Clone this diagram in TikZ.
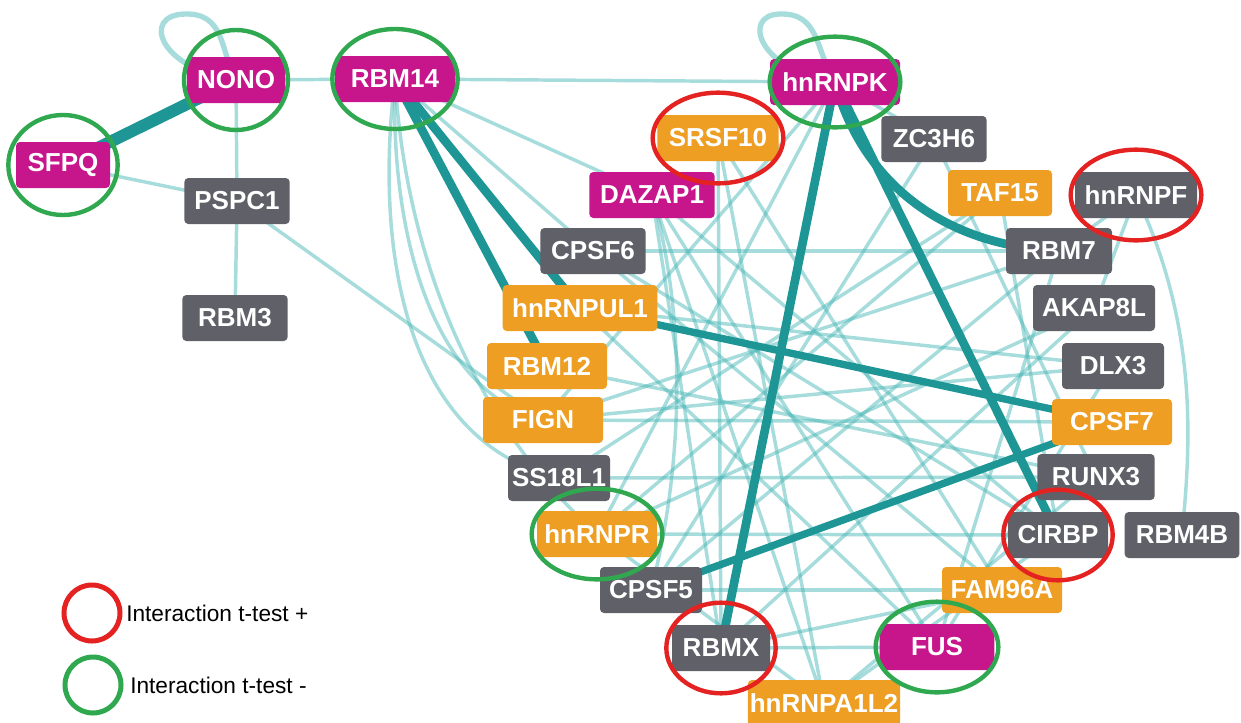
\documentclass[tikz,border=0pt]{standalone}
\usepackage{fontspec}
\setmainfont{Liberation Sans}
\usetikzlibrary{backgrounds}

\definecolor{pmag}{RGB}{199,21,140}
\definecolor{pgray}{RGB}{96,96,104}
\definecolor{porange}{RGB}{238,158,34}
\definecolor{tealdark}{RGB}{30,150,150}
\definecolor{teallight}{RGB}{80,185,185}
\definecolor{ringred}{RGB}{229,34,34}
\definecolor{ringgreen}{RGB}{47,168,79}

\tikzset{
  prot/.style={rounded corners=3pt, text=white, font=\bfseries\fontsize{19.5}{19.5}\selectfont,
    minimum height=34.5pt, inner xsep=1.5pt, inner ysep=0pt},
  magp/.style={prot, fill=pmag},
  grayp/.style={prot, fill=pgray},
  orgp/.style={prot, fill=porange},
  strong/.style={draw=tealdark, line width=6.5pt},
  weak/.style={draw=teallight, line width=2.6pt, opacity=0.5},
  posring/.style={draw=ringred, line width=3.3pt},
  negring/.style={draw=ringgreen, line width=3.3pt},
}

\begin{document}
\begin{tikzpicture}[x=0.75pt, y=-0.75pt]
\useasboundingbox (0,0) rectangle (1241,722);

\node[magp, minimum width=73.5pt] (nono) at (236,80) {NONO};
\node[magp, minimum width=70.5pt] (sfpq) at (63,165) {SFPQ};
\node[magp, minimum width=90pt] (rbm14) at (395,79) {RBM14};
\node[grayp, minimum width=79pt] (pspc1) at (237,201) {PSPC1};
\node[grayp, minimum width=79pt] (rbm3) at (235,318) {RBM3};
\node[magp, minimum width=97.5pt] (hnrnpk) at (835,82) {hnRNPK};
\node[orgp, minimum width=91pt] (srsf10) at (718,138) {SRSF10};
\node[magp, minimum width=94pt] (dazap1) at (652,195) {DAZAP1};
\node[grayp, minimum width=79pt] (zc3h6) at (934,139) {ZC3H6};
\node[orgp, minimum width=78pt] (taf15) at (1000,193) {TAF15};
\node[grayp, minimum width=91.5pt] (hnrnpf) at (1136,195) {hnRNPF};
\node[grayp, minimum width=79pt] (cpsf6) at (593,251) {CPSF6};
\node[grayp, minimum width=79.5pt] (rbm7) at (1059,251) {RBM7};
\node[orgp, minimum width=116pt] (hnrnpul1) at (580,308) {hnRNPUL1};
\node[grayp, minimum width=91.5pt] (akap8l) at (1094,308) {AKAP8L};
\node[orgp, minimum width=90pt] (rbm12) at (547,366) {RBM12};
\node[grayp, minimum width=76.5pt] (dlx3) at (1113,366) {DLX3};
\node[orgp, minimum width=90pt] (fign) at (543,420) {FIGN};
\node[orgp, minimum width=90pt] (cpsf7) at (1112,422) {CPSF7};
\node[grayp, minimum width=76.5pt] (ss18l1) at (559,478) {SS18L1};
\node[grayp, minimum width=88pt] (runx3) at (1096,477) {RUNX3};
\node[orgp, minimum width=90pt] (hnrnpr) at (597,534) {hnRNPR};
\node[grayp, minimum width=75pt] (cirbp) at (1058,535) {CIRBP};
\node[grayp, minimum width=86pt] (rbm4b) at (1182,535) {RBM4B};
\node[grayp, minimum width=76.5pt] (cpsf5) at (651,590) {CPSF5};
\node[orgp, minimum width=90pt] (fam96a) at (1002,590) {FAM96A};
\node[grayp, minimum width=73.5pt] (rbmx) at (721,648) {RBMX};
\node[magp, minimum width=86pt] (fus) at (937,647) {FUS};
\node[orgp, minimum width=114pt] (hnrnpa1l2) at (824,703) {hnRNPA1L2};

\begin{scope}[on background layer]
\foreach \a/\b in {nono/rbm14, rbm14/hnrnpk, nono/pspc1, pspc1/rbm3, sfpq/pspc1, pspc1/fign,
    rbm14/dazap1, rbm14/cpsf6, cpsf6/rbm7, dazap1/rbmx, dazap1/fus, dazap1/cirbp,
    srsf10/hnrnpa1l2, srsf10/fam96a, srsf10/rbmx, hnrnpk/hnrnpr, hnrnpk/fign, hnrnpk/zc3h6,
    zc3h6/cpsf5, taf15/hnrnpr, taf15/ss18l1, hnrnpf/akap8l, hnrnpf/rbm7, rbm7/fign, rbm7/cpsf5,
    akap8l/hnrnpr, akap8l/rbmx, dlx3/fign, dlx3/hnrnpul1, fign/cpsf7, ss18l1/runx3, hnrnpr/cirbp,
    rbm12/runx3, hnrnpul1/fus, cpsf6/cirbp, cpsf6/fam96a, rbmx/fus, rbmx/fam96a,
    hnrnpa1l2/runx3, fus/rbm7, fus/dlx3, cpsf5/fam96a, hnrnpa1l2/cirbp, hnrnpr/hnrnpa1l2,
    dazap1/hnrnpa1l2, zc3h6/runx3, taf15/cirbp}
  \draw[weak] (\a.center) -- (\b.center);
\draw[weak] (rbm14.center) .. controls (390,230) and (430,390) .. (fign.center);
\draw[weak] (rbm14.center) .. controls (375,240) and (400,440) .. (ss18l1.center);
\draw[weak] (rbm14.center) .. controls (405,250) and (470,420) .. (hnrnpr.center);
\draw[weak] (dazap1.center) .. controls (690,330) and (680,480) .. (cpsf5.center);
\draw[weak] (hnrnpf.center) .. controls (1200,330) and (1190,450) .. (rbm4b.center);
\draw[weak, line width=4pt] (nono.center) .. controls (160,70) and (140,15) .. (185,14)
  .. controls (225,13) and (220,50) .. (nono.center);
\draw[weak, line width=4pt] (hnrnpk.center) .. controls (760,72) and (740,15) .. (780,14)
  .. controls (820,13) and (815,50) .. (hnrnpk.center);
\draw[strong, line width=9pt] (sfpq.center) -- (nono.center);
\draw[strong] (rbm14.center) -- (hnrnpul1.center);
\draw[strong] (rbm14.center) -- (rbm12.center);
\draw[strong] (hnrnpk.center) -- (rbmx.center);
\draw[strong] (hnrnpk.center) -- (cirbp.center);
\draw[strong] (hnrnpk.center) .. controls (860,175) and (935,245) .. (rbm7.center);
\draw[strong, line width=5.5pt] (hnrnpul1.center) -- (cpsf7.center);
\draw[strong, line width=5.5pt] (cpsf5.center) -- (cpsf7.center);
\end{scope}

\draw[negring] (nono) ellipse [x radius=39pt, y radius=37.5pt];
\draw[negring] (sfpq) ellipse [x radius=41pt, y radius=37.5pt];
\draw[negring] (rbm14) ellipse [x radius=47pt, y radius=37.5pt];
\draw[negring] (hnrnpk) ellipse [x radius=49pt, y radius=34pt];
\draw[posring] (srsf10) ellipse [x radius=49pt, y radius=34pt];
\draw[posring] (hnrnpf) ellipse [x radius=49pt, y radius=34pt];
\draw[negring] (hnrnpr) ellipse [x radius=49pt, y radius=34pt];
\draw[posring] (cirbp) ellipse [x radius=41pt, y radius=34pt];
\draw[posring] (rbmx) ellipse [x radius=41pt, y radius=34pt];
\draw[negring] (fus) ellipse [x radius=46pt, y radius=34pt];

\node[circle, draw=ringred, line width=3.75pt, minimum size=42pt] (keypos) at (92,613) {};
\node[circle, draw=ringgreen, line width=3.75pt, minimum size=42pt] (keyneg) at (93,685) {};
\node[anchor=west, font=\fontsize{17}{17}\selectfont, inner sep=0pt] (keypostext) at (126,613) {Interaction t-test +};
\node[anchor=west, font=\fontsize{17}{17}\selectfont, inner sep=0pt] (keynegtext) at (130,685) {Interaction t-test -};
\end{tikzpicture}
\end{document}
